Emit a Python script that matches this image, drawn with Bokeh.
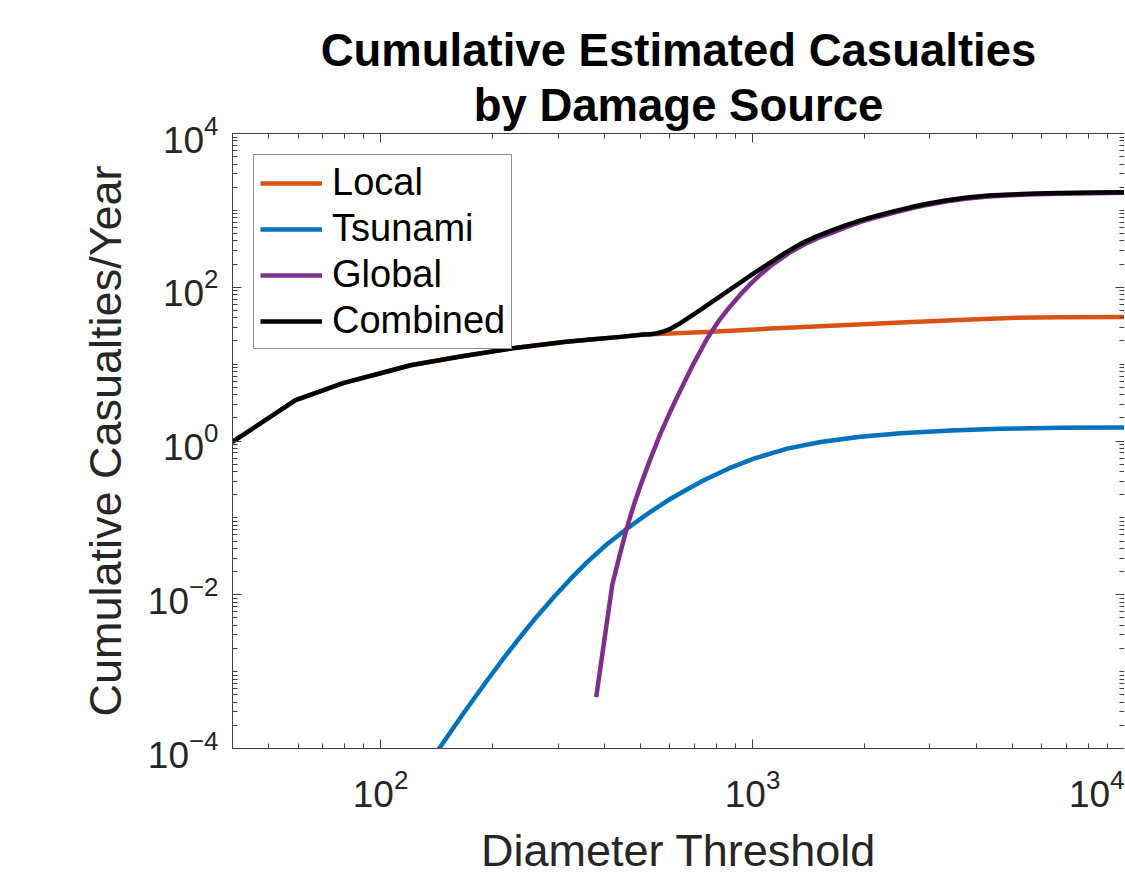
from bokeh.plotting import figure
from bokeh.models import (LogAxis, FixedTicker, LogTickFormatter, Legend, LegendItem,
                          Range1d, Title)
from bokeh.embed import file_html
from bokeh.resources import INLINE

# ---------------- data ----------------
local_x = [40, 59.1, 79.7, 100, 120.4, 164.1, 223.7, 311, 366.8, 441.8, 510.5, 755.3, 1118,
           1524, 2499, 3591, 4937, 6730, 10000]
local_y = [0.975, 3.394, 5.695, 7.61, 9.67, 12.55, 15.94, 19.42, 20.86, 22.62, 24.23, 26.2,
           29.0, 31.1, 34.7, 37.4, 39.9, 40.6, 41.0]

tsunami_x = [139.7, 145.0, 167.5, 193.6, 214.6, 237.9, 263.7, 292.4, 324.2, 359.4, 404.7,
             455.7, 518.4, 589.8, 660.6, 739.8, 863.6, 1008.1, 1239.5, 1523.6, 1951.4,
             2499.9, 3406.6, 4641.6, 6812.9, 10000]
tsunami_y = [8.18e-5, 1.061e-4, 2.911e-4, 7.713e-4, 1.506e-3, 2.860e-3, 5.262e-3, 9.352e-3,
             0.01606, 0.02657, 0.04472, 0.07004, 0.1102, 0.1668, 0.2292, 0.3080, 0.4397,
             0.5897, 0.7955, 0.9716, 1.134, 1.257, 1.365, 1.438, 1.488, 1.504]

global_x = [380.0, 419.6, 439.6, 460.5, 479.8, 500.0, 531.8, 565.7, 596.0, 627.6, 688.4,
            755.3, 812.1, 872.9, 928.5, 987.7, 1050.8, 1118.0, 1252.6, 1402.8, 1508.0,
            1620.7, 1778.3, 1951.4, 2161.3, 2393.4, 2656.7, 2948.7, 3337.7, 3777.1, 4318.7,
            4937.0, 5765.6, 6729.8, 8203.8, 10000]
global_y = [4.651e-4, 0.01339, 0.03285, 0.07709, 0.1475, 0.2645, 0.5897, 1.246, 2.208, 3.746,
            9.400, 21.57, 36.69, 57.19, 80.67, 110.5, 146.8, 189.2, 278.6, 377.7, 441.2,
            501.9, 599.7, 707.9, 816.3, 926.8, 1052.5, 1177.5, 1313.4, 1430.5, 1512.6,
            1574.1, 1619.0, 1646.5, 1672.7, 1691.4]

combined_x = [40, 59.1, 79.7, 100, 120.4, 164.1, 223.7, 311.0, 366.8, 441.8, 510.5, 531.8,
              554.4, 577.9, 602.0, 627.4, 653.6, 688.2, 724.7, 771.0, 820.4, 891.0, 967.7,
              1040.1, 1118.0, 1226.9, 1345.8, 1476.9, 1620.7, 1778.3, 1951.4, 2161.3, 2393.4,
              2656.7, 2948.7, 3337.7, 3777.1, 4318.7, 4937, 5765.6, 6729.8, 8203.8, 10000]
combined_y = [0.975, 3.394, 5.695, 7.61, 9.67, 12.55, 15.94, 19.42, 20.86, 22.62, 24.23,
              24.49, 25.19, 26.64, 28.82, 32.24, 36.63, 43.03, 50.88, 62.46, 76.66, 101.0,
              132.6, 167.8, 210.8, 281.7, 366.6, 452.5, 540.9, 638.9, 740.5, 852.6, 969.4,
              1095.8, 1220.3, 1357.4, 1473.5, 1557.5, 1612.4, 1654.3, 1681.4, 1708.2, 1727.3]

series_names = ["Local", "Tsunami", "Global", "Combined"]
series_colors = ["#D95319", "#0072BD", "#7E2F8E", "#000000"]

x_major = [1e2, 1e3, 1e4]
x_minor = [k * 10 ** e for e in (1, 2, 3) for k in range(2, 10) if 40 <= k * 10 ** e <= 1e4]
y_major = [1e-4, 1e-2, 1e0, 1e2, 1e4]
y_minor = [k * 10.0 ** e for e in range(-4, 4) for k in range(1, 10)
           if not (k == 1 and e % 2 == 0)]

title_line1 = "Cumulative Estimated Casualties"
title_line2 = "by Damage Source"
x_label = "Diameter Threshold"
y_label = "Cumulative Casualties/Year"

FONT = "Liberation Sans"
AX = "#262626"
AXLINE = "#404040"

p = figure(width=1124, height=878, x_axis_type="log", y_axis_type="log",
           x_range=Range1d(40, 10000), y_range=Range1d(1e-4, 1e4),
           output_backend="svg", toolbar_location=None, title=None,
           min_border_left=232, min_border_right=0, min_border_top=133,
           min_border_bottom=129)
p.grid.visible = False
p.outline_line_color = None
p.background_fill_color = "white"
p.border_fill_color = "white"

renderers = []
for xs, ys, c in [(local_x, local_y, series_colors[0]),
                  (tsunami_x, tsunami_y, series_colors[1]),
                  (global_x, global_y, series_colors[2]),
                  (combined_x, combined_y, series_colors[3])]:
    renderers.append(p.line(xs, ys, line_color=c, line_width=4.5, line_join="round"))


def style_axis(ax, major, minor, show_labels=True):
    ax.ticker = FixedTicker(ticks=major, minor_ticks=minor)
    ax.axis_line_color = AXLINE
    ax.axis_line_width = 1
    ax.major_tick_line_color = AXLINE
    ax.minor_tick_line_color = AXLINE
    ax.major_tick_in = 9
    ax.major_tick_out = 0
    ax.minor_tick_in = 5
    ax.minor_tick_out = 0
    if show_labels:
        ax.formatter = LogTickFormatter()
        ax.major_label_text_font = FONT
        ax.major_label_text_font_size = "37px"
        ax.major_label_text_color = AX
        ax.axis_label_text_font = FONT
        ax.axis_label_text_font_size = "45px"
        ax.axis_label_text_font_style = "normal"
        ax.axis_label_text_color = AX
    else:
        ax.major_label_text_font_size = "1px"
        ax.major_label_text_alpha = 0
        ax.major_label_standoff = 0


xax = p.xaxis[0]
style_axis(xax, x_major, x_minor)
xax.axis_label = x_label
xax.major_label_standoff = 20
xax.axis_label_standoff = 15

yax = p.yaxis[0]
style_axis(yax, y_major, y_minor)
yax.axis_label = y_label
yax.major_label_standoff = 14
yax.axis_label_standoff = 14

rax = LogAxis()
style_axis(rax, y_major, y_minor, show_labels=False)
p.add_layout(rax, "right")

tax = LogAxis()
style_axis(tax, x_major, x_minor, show_labels=False)
tax.major_label_standoff = 14
p.add_layout(tax, "above")

p.add_layout(Title(text=title_line2, align="center", text_font=FONT, text_font_size="45.5px",
                   text_font_style="bold", text_color="black", standoff=5), "above")
p.add_layout(Title(text=title_line1, align="center", text_font=FONT, text_font_size="45.5px",
                   text_font_style="bold", text_color="black", standoff=0), "above")

legend = Legend(items=[LegendItem(label=n, renderers=[r]) for n, r in zip(series_names, renderers)],
                location="top_left", margin=21, padding=6, spacing=3,
                glyph_width=62, glyph_height=20, label_height=20, label_standoff=10,
                label_text_font=FONT, label_text_font_size="38px", label_text_color="black",
                border_line_color="#262626", border_line_width=1,
                background_fill_color="white", background_fill_alpha=1.0)
p.add_layout(legend)

open("out.html", "w").write(file_html(p, INLINE))
